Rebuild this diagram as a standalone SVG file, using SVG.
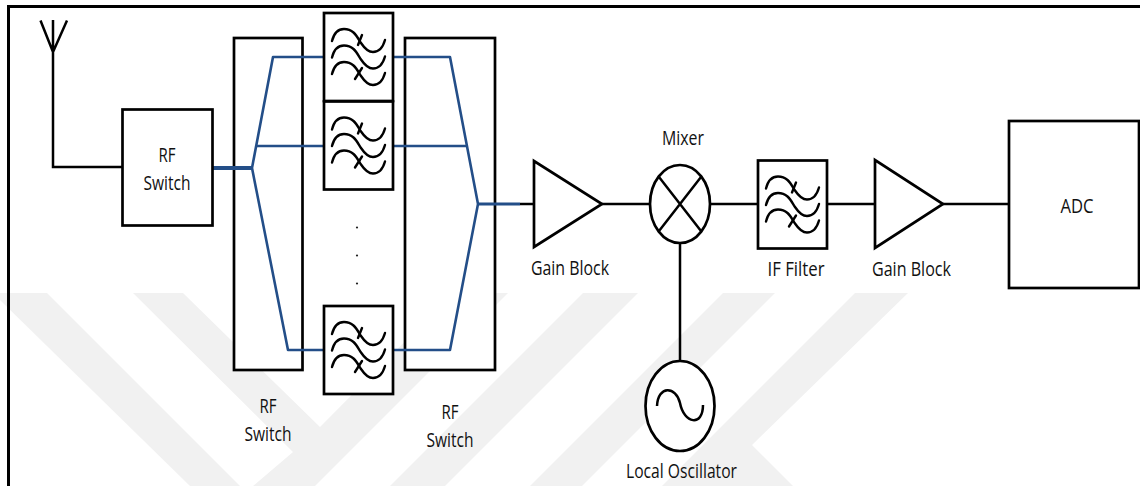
<svg xmlns="http://www.w3.org/2000/svg" width="1140" height="486" viewBox="0 0 1140 486">
<style>
.s{fill:none;stroke:#000;stroke-width:2.4;stroke-linejoin:round;stroke-linecap:round}
.b{fill:#fff;stroke:#000;stroke-width:2.7}
.n{fill:none;stroke:#000;stroke-width:2.5}
.bl{fill:none;stroke:#234e88;stroke-width:2.6;stroke-linejoin:round}
.blt{fill:none;stroke:#234e88;stroke-width:4}
.w{fill:#f1f1f1}
text{font-family:"Open Sans","Noto Sans",sans-serif;font-size:20px;fill:#111;text-anchor:middle}
.d{fill:#222}
</style>
<defs>
<path id="wave" class="s" d="M8 28C10 20 14 16 20 16C30 16 33 24 37 30C41 36 44 39 49 39C55 39 59 34 61 27"/>
<g id="filter">
<rect class="b" x="0" y="0" width="69" height="88"/>
<use href="#wave"/>
<use href="#wave" y="16.5"/>
<use href="#wave" y="33"/>
<path class="s" d="M34 32L38 22M31 66L38 55"/>
</g>
</defs>
<rect width="1140" height="486" fill="#fff"/>
<g id="watermark">
<polygon class="w" points="0,293 47,293 240,486 190,486 0,300"/>
<polygon class="w" points="133,293 183,293 320,427 453,293 508,293 315,486 253,486 293,452"/>
<polygon class="w" points="583,293 638,293 445,486 390,486"/>
<polygon class="w" points="723,293 775,293 582,486 530,486"/>
<polygon class="w" points="855,293 908,293 752,445 793,486 662,486"/>
</g>
<path id="frame" d="M8.5 486V6.5H1140" fill="none" stroke="#000" stroke-width="3"/>
<g id="switch-left-box"><rect class="b" x="234" y="38" width="68.5" height="332"/></g>
<g id="switch-right-box"><rect class="b" x="405" y="38" width="90" height="332"/></g>
<g id="connectors">
<path class="n" d="M53 53V167H122.500"/>
<path class="bl" d="M324 57H273L252 168L288 350H324"/>
<path class="bl" d="M256 146H324"/>
<path class="blt" d="M212 168H252"/>
<path class="bl" d="M392 57H450L478 204L450 350H392"/>
<path class="bl" d="M392 146H466"/>
<path class="n" d="M520 204H534"/>
<path class="blt" d="M478 204H520" style="stroke-width:3"/>
<path class="n" d="M602 204H650M710 204H758M827 204H875M943 204H1009M680 243V361"/>
</g>
<g id="antenna"><path class="n" d="M40.500 20.500L53 52L67 20.500M53 20V53"/></g>
<g id="rf-switch"><rect class="b" x="122.500" y="109.500" width="90" height="116"/>
<text x="167" y="162" textLength="17" lengthAdjust="spacingAndGlyphs">RF</text>
<text x="167" y="190" textLength="47" lengthAdjust="spacingAndGlyphs">Switch</text></g>
<g id="filter-1"><use href="#filter" x="324" y="13"/></g>
<g id="filter-2"><use href="#filter" x="324" y="101.500"/></g>
<g id="filter-3"><use href="#filter" x="324" y="306"/></g>
<g id="dots"><circle class="d" cx="357" cy="227.500" r="1.100"/><circle class="d" cx="357" cy="255.500" r="1.100"/><circle class="d" cx="357" cy="283.500" r="1.100"/></g>
<g id="switch-left-label"><text x="268" y="413" textLength="17" lengthAdjust="spacingAndGlyphs">RF</text>
<text x="268" y="441" textLength="47" lengthAdjust="spacingAndGlyphs">Switch</text></g>
<g id="switch-right-label"><text x="450" y="419" textLength="17" lengthAdjust="spacingAndGlyphs">RF</text>
<text x="450" y="447" textLength="47" lengthAdjust="spacingAndGlyphs">Switch</text></g>
<g id="gain-1"><polygon class="b" points="534,161 534,247 602,204"/>
<text x="570" y="275" textLength="78" lengthAdjust="spacingAndGlyphs">Gain Block</text></g>
<g id="mixer"><ellipse class="b" cx="680" cy="204" rx="30" ry="39"/><path class="n" d="M659 177L701 231M701 177L659 231"/>
<text x="683" y="145" textLength="42" lengthAdjust="spacingAndGlyphs">Mixer</text></g>
<g id="if-filter"><use href="#filter" x="758" y="160.500"/>
<text x="796" y="276" textLength="57" lengthAdjust="spacingAndGlyphs">IF Filter</text></g>
<g id="gain-2"><polygon class="b" points="875,160 875,248 943,204"/>
<text x="911.500" y="276" textLength="79" lengthAdjust="spacingAndGlyphs">Gain Block</text></g>
<g id="adc"><rect class="b" x="1009" y="121" width="130" height="167"/>
<text x="1077" y="213" textLength="33" lengthAdjust="spacingAndGlyphs">ADC</text></g>
<g id="local-oscillator"><ellipse class="b" cx="680" cy="406" rx="34.500" ry="45"/>
<path class="n" d="M657 406C658 385 676 386 680 403C684 424 703 427 703 405"/>
<text x="681.500" y="478" textLength="111" lengthAdjust="spacingAndGlyphs">Local Oscillator</text></g>
</svg>
